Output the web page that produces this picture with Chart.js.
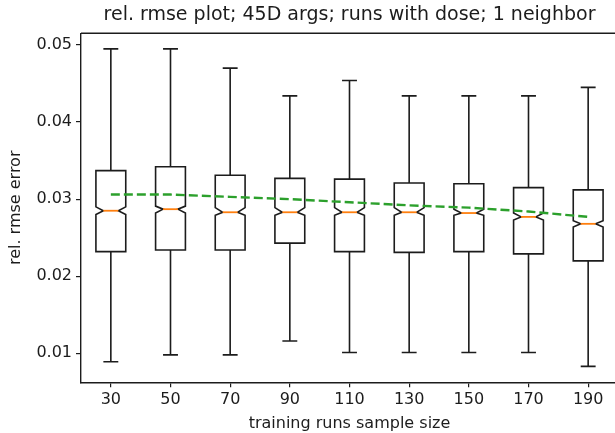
<!DOCTYPE html>
<html>
<head>
<meta charset="utf-8">
<script src="https://cdn.jsdelivr.net/npm/chart.js@4/dist/chart.umd.min.js"></script>
<style>
  html, body { margin: 0; padding: 0; background: #fff; overflow: hidden; }
  #wrap { width: 630px; height: 433px; }
</style>
</head>
<body>
<div id="wrap"><canvas id="boxChart" width="630" height="433"></canvas></div>
<script>
// -----------------------------
// Data
// -----------------------------
const sizes = ["30", "50", "70", "90", "110", "130", "150", "170", "190"];
const whiskerHigh = [0.0495, 0.0495, 0.0470, 0.0434, 0.0454, 0.0434, 0.0434, 0.0434, 0.0445];
const q3          = [0.0337, 0.0342, 0.0331, 0.0327, 0.0326, 0.0321, 0.0320, 0.0315, 0.0312];
const notchHigh   = [0.0290, 0.0291, 0.0289, 0.0289, 0.0289, 0.0289, 0.0287, 0.0282, 0.0272];
const medians     = [0.0285, 0.0287, 0.0283, 0.0283, 0.0283, 0.0283, 0.0282, 0.0277, 0.0268];
const notchLow    = [0.0280, 0.0282, 0.0279, 0.0279, 0.0279, 0.0279, 0.0279, 0.0273, 0.0264];
const q1          = [0.0232, 0.0234, 0.0234, 0.0243, 0.0232, 0.0231, 0.0232, 0.0229, 0.0220];
const whiskerLow  = [0.0089, 0.0098, 0.0098, 0.0116, 0.0101, 0.0101, 0.0101, 0.0101, 0.0083];
const means       = [0.0306, 0.0306, 0.0303, 0.0300, 0.0296, 0.0292, 0.0289, 0.0284, 0.0277];
const yTicks = [0.01, 0.02, 0.03, 0.04, 0.05];

const FONT = "'DejaVu Sans', sans-serif";
const INK = "#1c1c1c";

// -----------------------------
// Box plot drawn through the scales
// -----------------------------
const boxPlugin = {
  id: "notchedBoxes",
  beforeDatasetsDraw(chart) {
    const ctx = chart.ctx;
    const xs = chart.scales.x, ys = chart.scales.y;
    ctx.save();
    ctx.lineJoin = "miter";
    for (let i = 0; i < sizes.length; i++) {
      const pos = i + 1;
      const left = xs.getPixelForValue(pos - 0.25);
      const right = xs.getPixelForValue(pos + 0.25);
      const capL = xs.getPixelForValue(pos - 0.125);
      const capR = xs.getPixelForValue(pos + 0.125);
      const mid = xs.getPixelForValue(pos);
      const y = v => ys.getPixelForValue(v);

      // notched box
      ctx.strokeStyle = INK;
      ctx.lineWidth = 1.6;
      ctx.beginPath();
      ctx.moveTo(left, y(q1[i]));
      ctx.lineTo(right, y(q1[i]));
      ctx.lineTo(right, y(notchLow[i]));
      ctx.lineTo(capR, y(medians[i]));
      ctx.lineTo(right, y(notchHigh[i]));
      ctx.lineTo(right, y(q3[i]));
      ctx.lineTo(left, y(q3[i]));
      ctx.lineTo(left, y(notchHigh[i]));
      ctx.lineTo(capL, y(medians[i]));
      ctx.lineTo(left, y(notchLow[i]));
      ctx.closePath();
      ctx.stroke();

      // whiskers + caps
      ctx.beginPath();
      ctx.moveTo(mid, y(q1[i]));
      ctx.lineTo(mid, y(whiskerLow[i]));
      ctx.moveTo(mid, y(q3[i]));
      ctx.lineTo(mid, y(whiskerHigh[i]));
      ctx.moveTo(capL, y(whiskerLow[i]));
      ctx.lineTo(capR, y(whiskerLow[i]));
      ctx.moveTo(capL, y(whiskerHigh[i]));
      ctx.lineTo(capR, y(whiskerHigh[i]));
      ctx.stroke();

      // median
      ctx.strokeStyle = "#ff7f0e";
      ctx.lineWidth = 1.8;
      ctx.beginPath();
      ctx.moveTo(capL, y(medians[i]));
      ctx.lineTo(capR, y(medians[i]));
      ctx.stroke();
    }
    ctx.restore();
  },
  afterDraw(chart) {
    // top spine (matplotlib frame)
    const {ctx, chartArea} = chart;
    ctx.save();
    ctx.strokeStyle = INK;
    ctx.lineWidth = 1.4;
    ctx.beginPath();
    ctx.moveTo(chartArea.left, chartArea.top);
    ctx.lineTo(chartArea.right, chartArea.top);
    ctx.lineTo(chartArea.right, chartArea.bottom);
    ctx.stroke();
    ctx.restore();
  }
};

// -----------------------------
// Chart
// -----------------------------
new Chart(document.getElementById("boxChart"), {
  type: "line",
  data: {
    datasets: [{
      label: "mean",
      data: means.map((m, i) => ({x: i + 1, y: m})),
      borderColor: "#2ca02c",
      borderWidth: 2.4,
      borderDash: [9, 4],
      pointRadius: 0,
      fill: false,
      tension: 0
    }]
  },
  options: {
    responsive: false,
    animation: false,
    devicePixelRatio: 1,
    layout: { padding: { left: 0, right: 12, top: 0, bottom: 0 } },
    plugins: {
      legend: { display: false },
      tooltip: { enabled: false },
      title: {
        display: true,
        fullSize: false,
        text: "rel. rmse plot; 45D args; runs with dose; 1 neighbor",
        color: INK,
        font: { family: FONT, size: 19, weight: "normal", lineHeight: 1.2 },
        padding: { top: 4, bottom: 6.5 }
      }
    },
    scales: {
      x: {
        type: "linear",
        min: 0.5,
        max: 9.5,
        afterBuildTicks: s => { s.ticks = sizes.map((_, i) => ({value: i + 1})); },
        afterFit: s => { s.height = 50.7; },
        ticks: {
          color: INK,
          font: { family: FONT, size: 16 },
          padding: 3,
          maxRotation: 0,
          callback: (v) => sizes[Math.round(v) - 1]
        },
        grid: { display: true, drawOnChartArea: false, drawTicks: true, tickLength: 5, color: INK, lineWidth: 1.2 },
        border: { display: true, color: INK, width: 1.4 },
        title: {
          display: true,
          text: "training runs sample size",
          color: INK,
          font: { family: FONT, size: 16 },
          padding: { top: 1, bottom: 0 }
        }
      },
      y: {
        type: "linear",
        min: 0.00624,
        max: 0.05152,
        afterBuildTicks: s => { s.ticks = yTicks.map(v => ({value: v})); },
        afterFit: s => { s.width = 81; },
        ticks: {
          color: INK,
          font: { family: FONT, size: 16 },
          padding: 4,
          callback: v => v.toFixed(2)
        },
        grid: { display: true, drawOnChartArea: false, drawTicks: true, tickLength: 5, color: INK, lineWidth: 1.2 },
        border: { display: true, color: INK, width: 1.4 },
        title: {
          display: true,
          text: "rel. rmse error",
          color: INK,
          font: { family: FONT, size: 16 },
          padding: { top: 6, bottom: 0 }
        }
      }
    }
  },
  plugins: [boxPlugin]
});
</script>
</body>
</html>
